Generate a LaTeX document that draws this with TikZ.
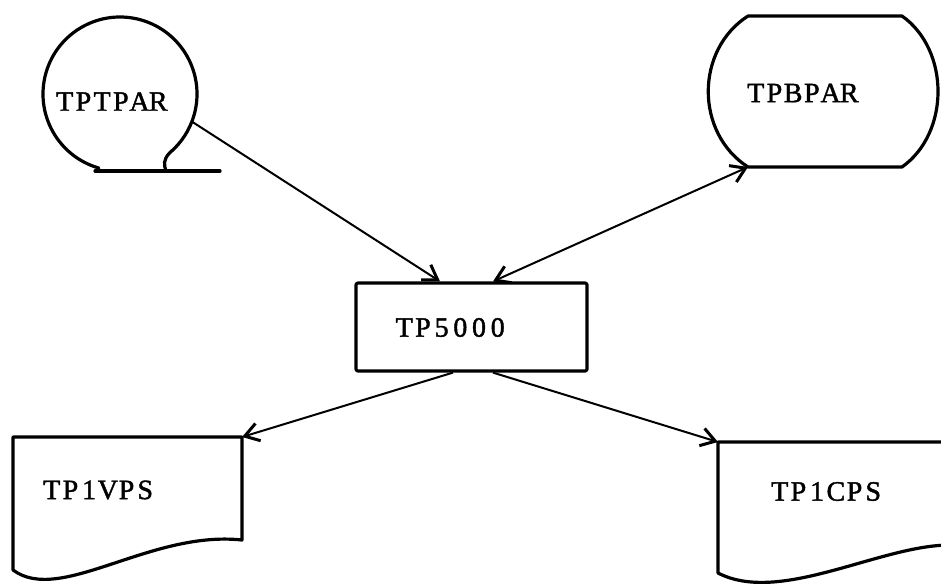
\documentclass[tikz,border=0pt]{standalone}
\usepackage{fontspec}
\newfontfamily\typew[FakeBold=1.5]{Liberation Serif}
\usetikzlibrary{arrows.meta}
\newcommand\pc[1]{\makebox[18.7pt]{#1}}
\tikzset{
  shapeline/.style={line width=3.2pt, line join=round, line cap=round},
  conn/.style={line width=2pt, -{Straight Barb[length=14pt,width=18pt,line width=3pt]}},
  biconn/.style={line width=2pt, {Straight Barb[length=14pt,width=18pt,line width=3pt]}-{Straight Barb[length=14pt,width=18pt,line width=3pt]}},
  lbl/.style={font=\typew\fontsize{28}{28}\selectfont, inner sep=0pt, anchor=center},
  anchorbox/.style={draw=none, inner sep=0pt, outer sep=0pt}
}
\begin{document}
\begin{tikzpicture}[x=1pt, y=-1pt]
\useasboundingbox (0,0) rectangle (941,584);
% ---------- TPTPAR (tape) ----------
\node[anchorbox, circle, minimum size=154pt] (tptpar) at (120,94) {};
\draw[shapeline] (120,94) ++(106:77) arc[start angle=106, end angle=410, radius=77]
   .. controls (163,160) and (164,165) .. (166,171);
\coordinate (tapeL) at (95,171);
\coordinate (tapeR) at (220,171);
\draw[shapeline] (tapeL) -- (tapeR);
\node[lbl] (tptpartext) at (111.5,101.5) {\pc{T}\pc{P}\pc{T}\pc{P}\pc{A}\pc{R}};
% ---------- TPBPAR ----------
\node[anchorbox, rectangle, minimum width=154pt, minimum height=151pt] (tpbpar) at (825,91.5) {};
\draw[shapeline] (tpbpar.north west) -- (tpbpar.north east)
   .. controls +(48,34) and +(48,-34) .. (tpbpar.south east)
   -- (tpbpar.south west)
   .. controls +(-53,-34) and +(-53,34) .. (tpbpar.north west);
\node[lbl] (tpbpartext) at (802.5,93) {\pc{T}\pc{P}\pc{B}\pc{P}\pc{A}\pc{R}};
% ---------- TP5000 ----------
\node[draw, shapeline, rounded corners=2pt, rectangle, minimum width=231pt, minimum height=88pt, inner sep=0pt] (tp) at (471.5,327) {};
\node[lbl] (tptext) at (451,327.5) {\pc{T}\pc{P}\pc{5}\pc{0}\pc{0}\pc{0}};
% ---------- TP1VPS ----------
\node[anchorbox, rectangle, minimum width=229pt, minimum height=103pt] (vps) at (127.5,488.5) {};
\draw[shapeline] (vps.north west) -- (vps.north east) -- (vps.south east)
   .. controls (150,530) and (60,605) .. (13,570) -- cycle;
\node[lbl] (vpstext) at (98.5,490) {\pc{T}\pc{P}\pc{1}\pc{V}\pc{P}\pc{S}};
% ---------- TP1CPS ----------
\node[anchorbox, rectangle, minimum width=232pt, minimum height=103pt] (cps) at (834,493.5) {};
\draw[shapeline] (cps.north east) -- (cps.north west) -- (718,573)
   .. controls (780,605) and (880,545) .. (950,545);
\node[lbl] (cpstext) at (826.5,491.5) {\pc{T}\pc{P}\pc{1}\pc{C}\pc{P}\pc{S}};
% ---------- connectors ----------
\draw[conn] (tptpar.-21) -- ([xshift=-31.5pt]tp.north);
\draw[biconn] ([xshift=21.5pt]tp.north) -- (tpbpar.south west);
\draw[conn] ([xshift=-18.5pt]tp.south) -- (vps.north east);
\draw[conn] ([xshift=21.5pt]tp.south) -- (cps.north west);
\end{tikzpicture}
\end{document}
